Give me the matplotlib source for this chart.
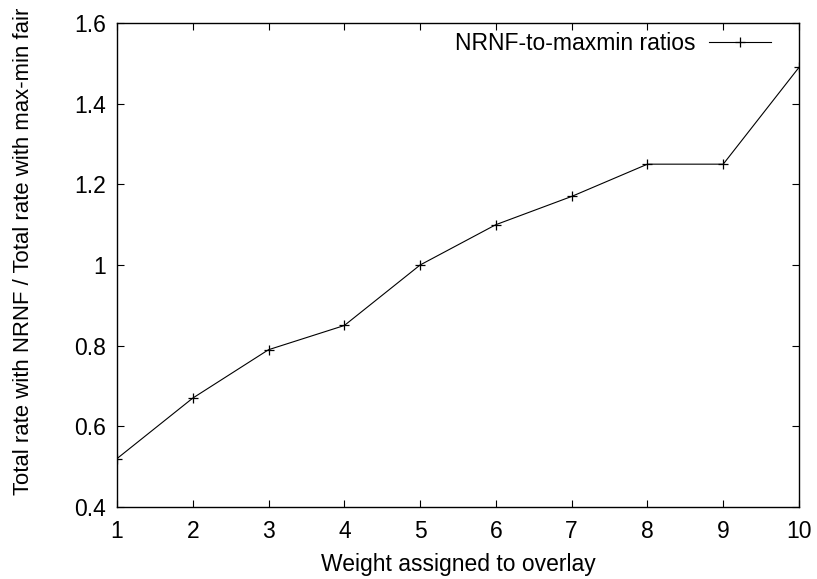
import matplotlib
matplotlib.use("Agg")
import matplotlib.pyplot as plt

plt.rcParams['font.family'] = ['Liberation Sans', 'DejaVu Sans']

weights = [1, 2, 3, 4, 5, 6, 7, 8, 9, 10]
ratios = [0.52, 0.67, 0.79, 0.85, 1.00, 1.10, 1.17, 1.25, 1.25, 1.49]
y_ticks = [0.4, 0.6, 0.8, 1.0, 1.2, 1.4, 1.6]
y_tick_labels = ["0.4", "0.6", "0.8", "1", "1.2", "1.4", "1.6"]
series_label = "NRNF-to-maxmin ratios"

fs = 16.5
fig = plt.figure(figsize=(8.17, 5.79), dpi=100)
W, H = 817, 579
left, right, top, bottom = 117, 799, 23, 507
ax = fig.add_axes([left / W, 1 - bottom / H, (right - left) / W, (bottom - top) / H])

ax.plot(weights, ratios, color='black', linewidth=0.8, marker='+',
        markersize=7, markeredgewidth=0.9, label=series_label)

ax.set_xlim(1, 10)
ax.set_ylim(0.4, 1.6)
ax.set_xticks(weights)
ax.set_xticklabels([str(w) for w in weights])
ax.set_yticks(y_ticks)
ax.set_yticklabels(y_tick_labels)
ax.tick_params(direction='in', length=5, width=0.8, top=True, right=True,
               labelsize=fs)
ax.tick_params(axis='x', pad=9)
ax.tick_params(axis='y', pad=8)
for s in ax.spines.values():
    s.set_linewidth(1.0)

ax.set_xlabel("Weight assigned to overlay", fontsize=fs)
ax.set_ylabel("Total rate with NRNF / Total rate with max-min fair", fontsize=15.9)
ax.xaxis.set_label_coords((458 - left) / (right - left), -(565 - bottom) / (bottom - top))
ax.yaxis.set_label_coords(-(left - 23) / (right - left), (bottom - 251) / (bottom - top))
ax.xaxis.label.set_va('center')
ax.yaxis.label.set_va('center')

ax.legend(loc='upper right', frameon=False, markerfirst=False, fontsize=fs,
          handlelength=2.7, handletextpad=0.6, borderaxespad=0.0,
          borderpad=0.0, bbox_to_anchor=((771 - left) / (right - left), 1 - 9 / (bottom - top)))

fig.savefig("out.png", dpi=100)
